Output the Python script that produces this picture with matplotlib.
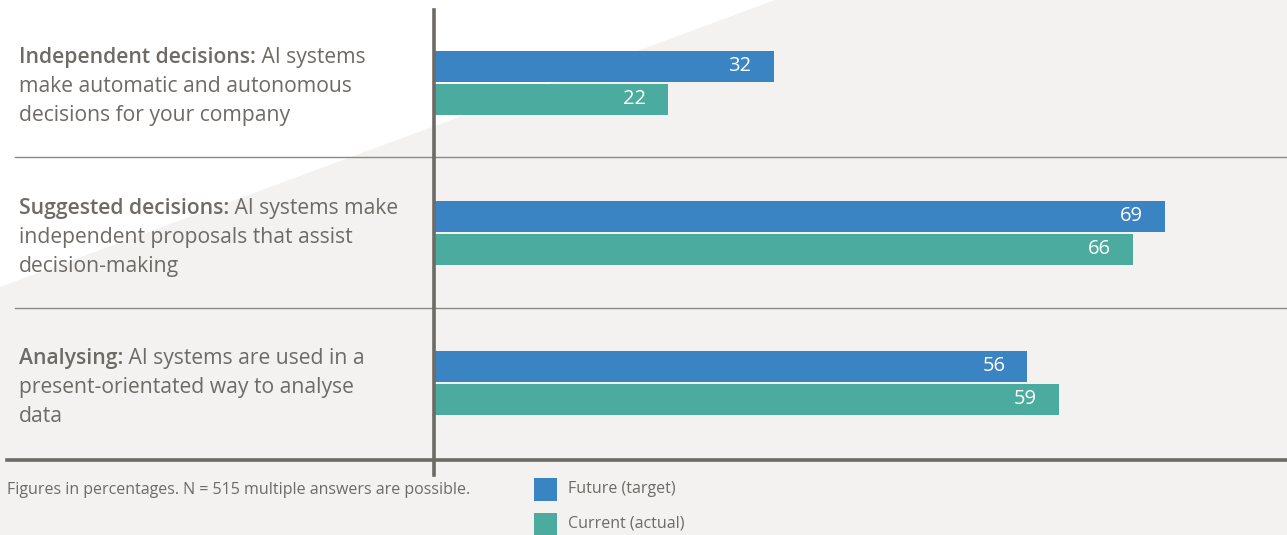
import matplotlib
matplotlib.use("Agg")
import matplotlib.pyplot as plt
from matplotlib.patches import Polygon
import numpy as np

# ---- data ----
bold_heads = ["Independent decisions:", "Suggested decisions:", "Analysing:"]
label_lines = [
    ["AI systems", "make automatic and autonomous", "decisions for your company"],
    ["AI systems make", "independent proposals that assist", "decision-making"],
    ["AI systems are used in a", "present-orientated way to analyse", "data"],
]
future_vals = [32, 69, 56]
current_vals = [22, 66, 59]
series_names = ["Future (target)", "Current (actual)"]
footnote = "Figures in percentages. N = 515 multiple answers are possible."

# ---- style ----
W, H = 1287, 535
BG = "#f3f2f0"
BLUE = "#3a84c4"
TEAL = "#4bab9f"
TXT = "#6e6a66"
FONT = "Open Sans"

plt.rcParams['font.family'] = [FONT, 'DejaVu Sans']

fig = plt.figure(figsize=(W / 100, H / 100), dpi=100)
fig.patch.set_facecolor(BG)

# white diagonal triangle in background
tri = Polygon([(0, 1), (775 / W, 1), (0, 1 - 287 / H)], closed=True,
              transform=fig.transFigure, facecolor="white", edgecolor="none", zorder=-5)
fig.patches.append(tri)

ax = fig.add_axes([0, 0, 1, 1])
ax.set_facecolor("none")
ax.set_zorder(1)
px_per_unit = 10.58
x0 = 435
ax.set_xlim(-x0 / px_per_unit, (W - x0) / px_per_unit)
grp_px = 150.0
c0 = 82.5
ax.set_ylim((H - c0) / grp_px, -c0 / grp_px)
ax.axis("off")

n = len(future_vals)
pos = np.arange(n)
bh = 31 / grp_px
off = 16.5 / grp_px
ax.barh(pos - off, future_vals, height=bh, color=BLUE, zorder=3)
ax.barh(pos + off, current_vals, height=bh, color=TEAL, zorder=3)

inset = 22 / px_per_unit
for i in range(n):
    ax.text(future_vals[i] - inset, pos[i] - off, str(future_vals[i]), color="white",
            fontsize=14.5, ha="right", va="center", zorder=4)
    ax.text(current_vals[i] - inset, pos[i] + off, str(current_vals[i]), color="white",
            fontsize=14.5, ha="right", va="center", zorder=4)

def fx(px):
    return px / W
def fy(py):
    return 1 - py / H

# separators and axis lines
for py in (157, 308):
    ax.add_artist(plt.Line2D([fx(15), 1], [fy(py), fy(py)], transform=fig.transFigure,
                             color="#8c8986", lw=1.0, zorder=2))
ax.add_artist(plt.Line2D([fx(7), 1], [fy(460), fy(460)], transform=fig.transFigure,
                         color="#6e6a66", lw=2.6, zorder=5))
ax.add_artist(plt.Line2D([fx(434), fx(434)], [fy(10), fy(475)], transform=fig.transFigure,
                         color="#6e6a66", lw=2.6, zorder=5))

# category labels
LFS = 15.2
line_gap = 29
first_baseline = [63, 214, 364]
for i in range(n):
    y1 = first_baseline[i]
    t = ax.text(fx(19), fy(y1), bold_heads[i], fontsize=LFS, fontweight="semibold",
                color=TXT, ha="left", va="baseline", transform=fig.transFigure)
    ax.annotate(" " + label_lines[i][0], xy=(1, 0), xycoords=t, fontsize=LFS,
                color=TXT, ha="left", va="bottom", annotation_clip=False)
    for k in range(1, 3):
        ax.text(fx(19), fy(y1 + k * line_gap), label_lines[i][k], fontsize=LFS,
                color=TXT, ha="left", va="baseline", transform=fig.transFigure)

# footnote
ax.text(fx(7), fy(490), footnote, fontsize=11.5, color=TXT, ha="left", va="center",
        transform=fig.transFigure)

# legend
for j, (name, col) in enumerate(zip(series_names, [BLUE, TEAL])):
    ycen = 489 + j * 35
    ax.add_patch(plt.Rectangle((fx(534), fy(ycen + 11.5)), 23 / W, 23 / H,
                               transform=fig.transFigure, facecolor=col,
                               edgecolor="none", clip_on=False))
    ax.text(fx(568), fy(ycen), name, fontsize=11.5, color=TXT, ha="left", va="center",
            transform=fig.transFigure)

fig.savefig("out.png", dpi=100, facecolor=BG)
